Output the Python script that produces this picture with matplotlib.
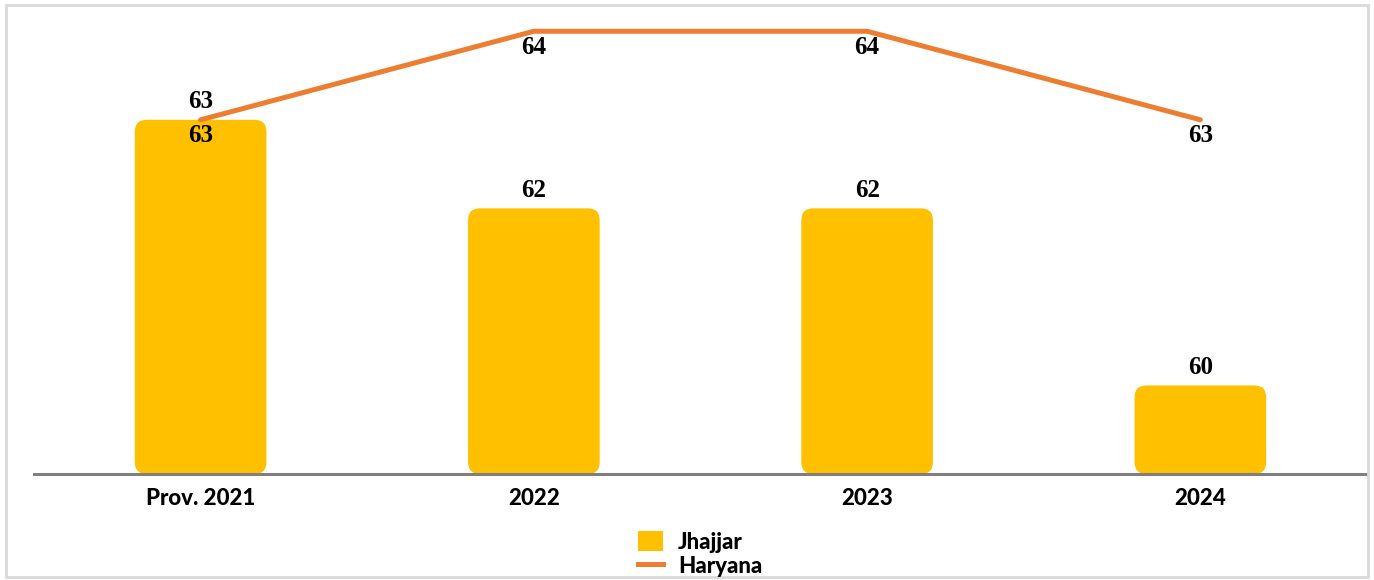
import matplotlib
matplotlib.use("Agg")
import matplotlib.pyplot as plt
from matplotlib.patches import FancyBboxPatch, Rectangle, Patch
from matplotlib.lines import Line2D

categories = ["Prov. 2021", "2022", "2023", "2024"]
jhajjar = [63, 62, 62, 60]
haryana = [63, 64, 64, 63]

W, H = 1374, 580
fig = plt.figure(figsize=(W / 100, H / 100), dpi=100)
ax = fig.add_axes([34 / W, 1 - 474 / H, 1333 / W, 464 / H])
ax.set_xlim(-0.5, len(categories) - 0.5)
ymin, ymax = 59.0, 64.24
ax.set_ylim(ymin, ymax)

bar_color = "#FFC000"
line_color = "#ED7D31"
bw = 0.395
px_x = 1333 / len(categories)
px_y = 464 / (ymax - ymin)
r = 12 / px_x
for i, v in enumerate(jhajjar):
    p = FancyBboxPatch((i - bw / 2, ymin), bw, v - ymin,
                       boxstyle=f"round,pad=0,rounding_size={r}",
                       mutation_aspect=px_x / px_y,
                       fc=bar_color, ec="none", zorder=2)
    ax.add_patch(p)
    ax.annotate(str(v), (i, v), xytext=(0, 18), textcoords="offset pixels",
                ha="center", va="center", fontsize=18, fontweight="bold",
                family="Liberation Serif", color="black", zorder=5)

x = list(range(len(categories)))
ax.plot(x, haryana, color=line_color, lw=3.6, solid_capstyle="round", zorder=3)
for i, v in enumerate(haryana):
    ax.annotate(str(v), (i, v), xytext=(0, -16), textcoords="offset pixels",
                ha="center", va="center", fontsize=18, fontweight="bold",
                family="Liberation Serif", color="black", zorder=5)

for s in ["top", "right", "left"]:
    ax.spines[s].set_visible(False)
ax.spines["bottom"].set_color("#7f7f7f")
ax.spines["bottom"].set_linewidth(2.2)
ax.spines["bottom"].set_zorder(4)
ax.set_yticks([])
ax.set_xticks(x)
ax.set_xticklabels(categories, fontsize=16, fontweight="black", family="Lato")
ax.tick_params(axis="x", length=0, pad=10)
ax.patch.set_alpha(0)

handles = [Patch(fc=bar_color, ec="none"),
           Line2D([0], [0], color=line_color, lw=3.6)]
leg = fig.legend(handles, ["Jhajjar", "Haryana"], loc="center",
                 bbox_to_anchor=(700 / W, 1 - 554 / H), frameon=False,
                 prop={"family": "Lato", "weight": "black", "size": 16},
                 handlelength=1.15, handleheight=1.0, labelspacing=0.1,
                 handletextpad=0.65, borderpad=0)

fig.patches.append(Rectangle((6 / W, 3 / H), 1362 / W, 572 / H,
                             transform=fig.transFigure, fill=False,
                             ec="#d9d9d9", lw=2))
fig.savefig("out.png", dpi=100, facecolor="white")
